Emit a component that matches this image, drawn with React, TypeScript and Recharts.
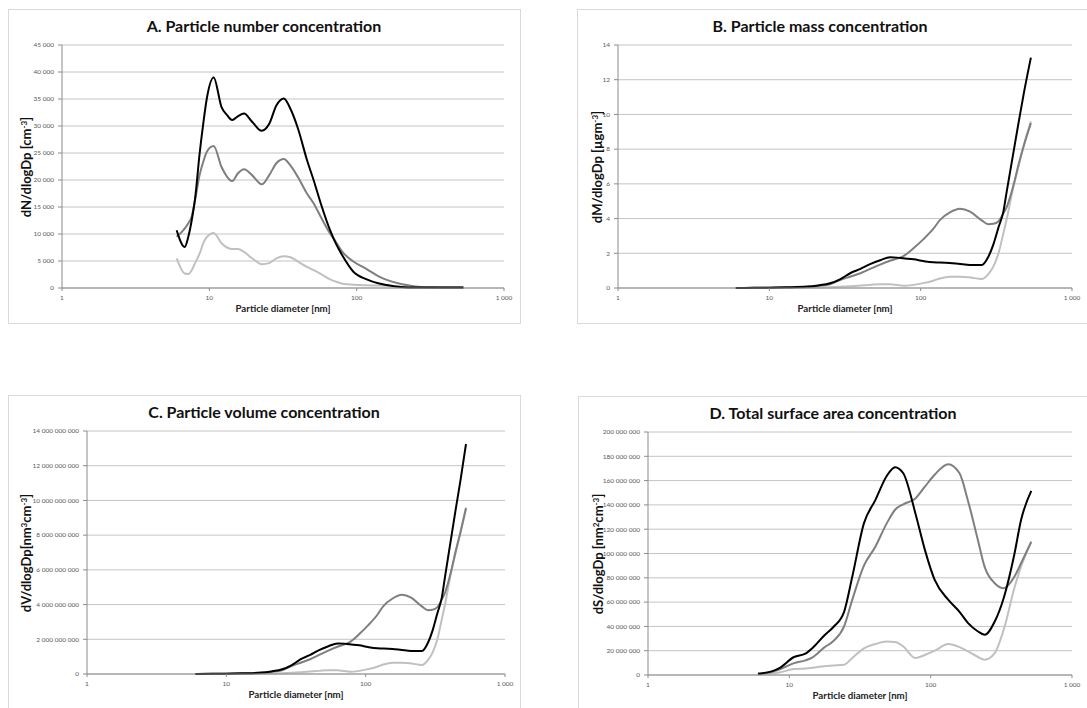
import React from 'react';
import { LineChart, Line, XAxis, YAxis, CartesianGrid } from 'recharts';

// A. number concentration (values in cm^-3)
const dA = [6.0, 6.8, 7.2, 7.6, 8.0, 8.6, 9.1, 9.6, 10.7, 12.1, 13.2, 14.3, 15.6, 17.2, 19.5, 22.7, 25.5, 28.5, 32, 35.5, 40, 46, 51, 57, 66, 72, 80, 95, 117, 140, 160, 200, 250, 330, 420, 530];
const nBlack = [10700, 7600, 9500, 12600, 16500, 25000, 30500, 35000, 39000, 33500, 32000, 31100, 31800, 32300, 30800, 29100, 30400, 33800, 35100, 33200, 29500, 23700, 20000, 15700, 10700, 8300, 6000, 3000, 1600, 870, 550, 200, 100, 100, 100, 100];
const nGray = [9500, 11000, 12000, 13300, 16300, 21000, 23400, 25200, 26300, 22400, 20600, 19800, 21200, 22000, 20900, 19200, 20900, 23100, 23900, 22700, 20500, 17500, 15700, 13200, 10100, 8600, 6700, 4900, 3500, 2200, 1500, 740, 300, 120, 100, 100];
const nLight = [5500, 2700, 2600, 3300, 4600, 6400, 8300, 9400, 10200, 8300, 7500, 7200, 7200, 6700, 5500, 4400, 4600, 5500, 5900, 5700, 4900, 3900, 3300, 2600, 1600, 1200, 800, 600, 500, 450, 400, 200, 100, 100, 100, 100];

// B. mass concentration (µg m^-3)
const dB = [6, 8, 10, 13, 17.7, 21, 25.2, 29.3, 34.2, 40, 46.3, 54, 62.8, 70, 76.9, 90, 104, 121, 134, 156, 182, 212, 253, 280, 302, 327, 352, 371, 410, 443, 480, 535];
const mBlack = [0, 0.01, 0.02, 0.04, 0.08, 0.15, 0.27, 0.5, 0.85, 1.1, 1.38, 1.6, 1.77, 1.75, 1.71, 1.65, 1.55, 1.48, 1.47, 1.44, 1.38, 1.33, 1.32, 1.8, 2.5, 3.5, 4.4, 5.6, 7.8, 9.5, 11.2, 13.27];
const mGray = [0, 0.01, 0.02, 0.03, 0.06, 0.12, 0.22, 0.46, 0.65, 0.85, 1.1, 1.35, 1.57, 1.7, 1.84, 2.3, 2.8, 3.4, 3.91, 4.35, 4.56, 4.4, 3.9, 3.68, 3.7, 3.85, 4.3, 4.68, 5.9, 7.1, 8.2, 9.5];
const mLight = [0, 0, 0.01, 0.01, 0.02, 0.03, 0.05, 0.07, 0.1, 0.14, 0.18, 0.22, 0.22, 0.17, 0.13, 0.18, 0.28, 0.42, 0.55, 0.65, 0.65, 0.61, 0.52, 0.8, 1.23, 2.0, 3.15, 4.0, 5.83, 7.0, 8.2, 9.6];

// C. volume concentration (10^9 nm^3 cm^-3)
const dC = [6, 8, 10, 13, 17.7, 21, 25.2, 29.3, 34.2, 40, 46.3, 54, 62.8, 70, 76.9, 90, 104, 121, 134, 156, 182, 212, 253, 280, 302, 327, 352, 371, 410, 443, 480, 525];
const vBlack = [0, 0.01, 0.02, 0.04, 0.08, 0.15, 0.27, 0.5, 0.85, 1.1, 1.38, 1.6, 1.76, 1.75, 1.71, 1.65, 1.55, 1.48, 1.47, 1.44, 1.38, 1.33, 1.32, 1.8, 2.5, 3.5, 4.4, 5.6, 7.8, 9.5, 11.2, 13.25];
const vGray = [0, 0.01, 0.02, 0.03, 0.06, 0.12, 0.22, 0.46, 0.65, 0.85, 1.1, 1.35, 1.57, 1.7, 1.84, 2.3, 2.8, 3.4, 3.91, 4.35, 4.56, 4.4, 3.9, 3.68, 3.7, 3.85, 4.3, 4.68, 5.9, 7.1, 8.2, 9.55];
const vLight = [0, 0, 0.01, 0.01, 0.02, 0.03, 0.05, 0.07, 0.1, 0.14, 0.18, 0.22, 0.22, 0.17, 0.13, 0.18, 0.28, 0.42, 0.55, 0.65, 0.65, 0.61, 0.52, 0.8, 1.23, 2.0, 3.15, 4.0, 5.83, 7.0, 8.2, 9.6];

// D. surface area concentration (10^6 nm^2 cm^-3)
const dD = [6, 7.5, 8.5, 10.8, 13, 14.6, 17.6, 20.5, 24.4, 27.9, 33.7, 40.6, 49, 56, 64, 78, 91, 107, 133, 160, 184, 215, 241, 284, 330, 392, 436, 515];
const sBlack = [1, 3, 5.7, 14.8, 17.5, 22.2, 32.3, 39.5, 52, 81, 124.8, 143.9, 164, 171, 166, 133, 103, 78, 62, 52, 42.7, 36, 33.1, 44, 64, 100, 127.5, 151.6];
const sGray = [1, 2.5, 4.4, 9.8, 12, 14.5, 22.5, 28, 40, 62, 90, 105.6, 125, 136, 140.5, 145.3, 155, 165, 173.5, 166, 143, 112, 89, 75.5, 71.4, 81, 92, 109.7];
const sLight = [0.5, 1.2, 2.1, 4.9, 5.4, 6.0, 7.2, 7.8, 8.5, 14, 22, 25.5, 27.5, 27.2, 23.5, 14, 16.5, 20, 25.5, 23, 19.4, 15, 12.6, 18, 38, 72, 89.2, 109.7];

const xTicks = [1, 10, 100, 1000];
const FONT = 'Lato, "Open Sans", sans-serif';

const spaced = (n: number) => String(Math.round(n)).replace(/\B(?=(\d{3})+(?!\d))/g, ' ');

function rows(d: number[], b: number[], g: number[], l: number[]) {
  return d.map((x, i) => ({ d: x, black: b[i], gray: g[i], light: l[i] }));
}

type PanelProps = {
  left: number;
  top: number;
  plotLeft: number;
  plotRight: number;
  titleX: number;
  labelX: number;
  title: string;
  ylabel: React.ReactNode;
  data: any[];
  yMax: number;
  yTicks: number[];
  yFmt: (v: number) => string;
};

function Panel(p: PanelProps) {
  const W = 513;
  const H = 315;
  const mTop = 36;
  const xH = 36;
  const yW = p.plotLeft;
  const plotMidY = mTop + (H - mTop - xH) / 2;
  const plotMidX = (p.plotLeft + (W - p.plotRight)) / 2;

  const yTick = (t: any) => (
    <text x={t.x - 2} y={t.y} dy={2.3} textAnchor="end" fontSize={6.5} fill="#595959" fontFamily={FONT}>
      {p.yFmt(t.payload.value)}
    </text>
  );
  const xTick = (t: any) => (
    <text x={t.x} y={t.y} dy={7} textAnchor="middle" fontSize={6.5} fill="#595959" fontFamily={FONT}>
      {spaced(t.payload.value)}
    </text>
  );

  return (
    <div style={{ position: 'absolute', left: p.left, top: p.top, width: W, height: H, fontFamily: FONT }}>
      <div style={{ position: 'absolute', inset: 0, border: '1px solid #d9d9d9', boxSizing: 'border-box' }} />
      <div style={{ position: 'absolute', left: p.titleX - 200, width: 400, top: 7, textAlign: 'center', fontWeight: 700, fontSize: 16, color: '#111' }}>
        {p.title}
      </div>
      <div style={{ position: 'absolute', left: 0, top: 0 }}>
        <LineChart width={W} height={H} data={p.data} margin={{ top: mTop, right: p.plotRight, bottom: 0, left: 0 }}>
          <CartesianGrid vertical={false} stroke="#c4c4c4" strokeWidth={1} />
          <XAxis
            dataKey="d"
            type="number"
            scale="log"
            domain={[1, 1000]}
            ticks={xTicks}
            allowDataOverflow
            height={xH}
            tickSize={3}
            tick={xTick}
            stroke="#8c8c8c"
            interval={0}
          />
          <YAxis
            type="number"
            domain={[0, p.yMax]}
            ticks={p.yTicks}
            width={yW}
            tickSize={4}
            tick={yTick}
            stroke="#8c8c8c"
            interval={0}
          />
          <Line type="monotone" dataKey="light" stroke="#c0c0c0" strokeWidth={2} dot={false} isAnimationActive={false} />
          <Line type="monotone" dataKey="gray" stroke="#7f7f7f" strokeWidth={2} dot={false} isAnimationActive={false} />
          <Line type="monotone" dataKey="black" stroke="#000000" strokeWidth={2} dot={false} isAnimationActive={false} />
        </LineChart>
      </div>
      <div style={{ position: 'absolute', left: plotMidX - 100, width: 200, top: H - xH + 14, textAlign: 'center', fontWeight: 700, fontSize: 9.7, color: '#222' }}>
        Particle diameter [nm]
      </div>
      <div
        style={{
          position: 'absolute',
          left: p.labelX - 100,
          top: plotMidY - 10,
          width: 200,
          height: 20,
          lineHeight: '20px',
          textAlign: 'center',
          transform: 'rotate(-90deg)',
          fontWeight: 700,
          fontSize: 13,
          color: '#111',
          whiteSpace: 'nowrap',
        }}
      >
        {p.ylabel}
      </div>
    </div>
  );
}

const sup = (t: string) => <sup style={{ fontSize: '0.62em', verticalAlign: '0.55em', lineHeight: 0 }}>{t}</sup>;

export default function App() {
  return (
    <div style={{ position: 'absolute', left: 0, top: 0, width: 1087, height: 708, overflow: 'hidden', background: '#fff' }}>
      <Panel
        left={8}
        top={9}
        plotLeft={54}
        plotRight={17}
        titleX={256}
        labelX={18}
        title="A. Particle number concentration"
        ylabel={<span>dN/dlogDp [cm{sup('-3')}]</span>}
        data={rows(dA, nBlack, nGray, nLight)}
        yMax={45000}
        yTicks={[0, 5000, 10000, 15000, 20000, 25000, 30000, 35000, 40000, 45000]}
        yFmt={spaced}
      />
      <Panel
        left={577}
        top={9}
        plotLeft={41}
        plotRight={18}
        titleX={243}
        labelX={20}
        title="B. Particle mass concentration"
        ylabel={<span>dM/dlogDp [µgm{sup('-3')}]</span>}
        data={rows(dB, mBlack, mGray, mLight)}
        yMax={14}
        yTicks={[0, 2, 4, 6, 8, 10, 12, 14]}
        yFmt={spaced}
      />
      <Panel
        left={8}
        top={395}
        plotLeft={79}
        plotRight={16}
        titleX={256}
        labelX={18}
        title="C. Particle volume concentration"
        ylabel={<span>dV/dlogDp[nm{sup('3')}cm{sup('-3')}]</span>}
        data={rows(dC, vBlack, vGray, vLight)}
        yMax={14}
        yTicks={[0, 2, 4, 6, 8, 10, 12, 14]}
        yFmt={(v) => spaced(v * 1e9)}
      />
      <Panel
        left={578}
        top={396}
        plotLeft={70}
        plotRight={19}
        titleX={255}
        labelX={20}
        title="D. Total surface area concentration"
        ylabel={<span>dS/dlogDp [nm{sup('2')}cm{sup('-3')}]</span>}
        data={rows(dD, sBlack, sGray, sLight)}
        yMax={200}
        yTicks={[0, 20, 40, 60, 80, 100, 120, 140, 160, 180, 200]}
        yFmt={(v) => spaced(v * 1e6)}
      />
    </div>
  );
}
